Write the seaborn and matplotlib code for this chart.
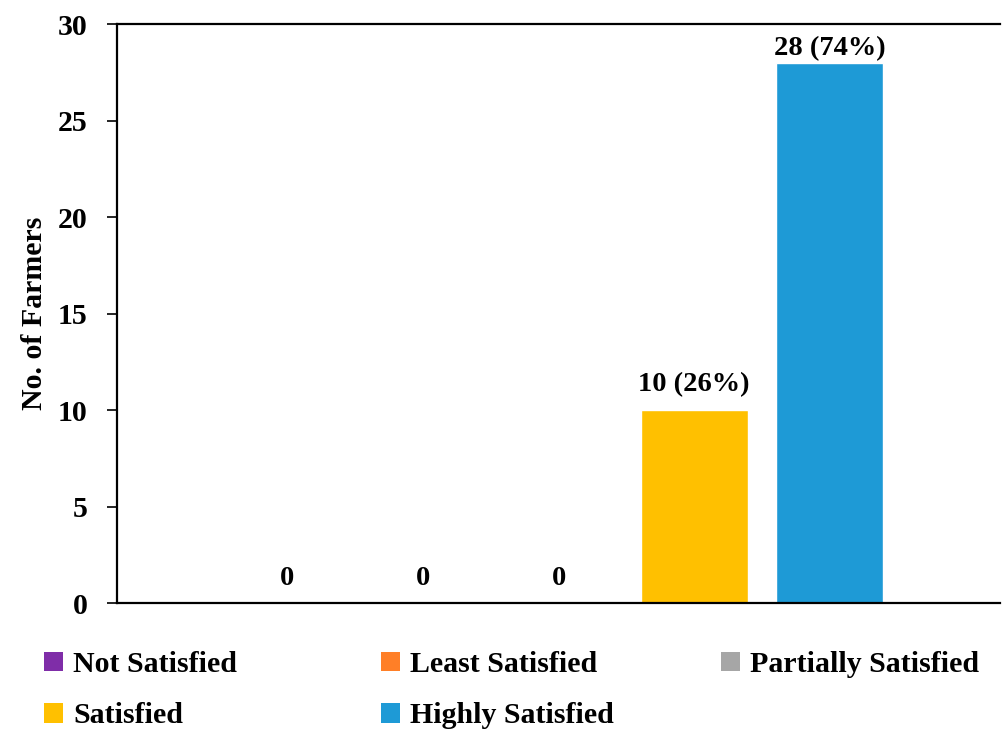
import matplotlib
matplotlib.use("Agg")
import matplotlib.pyplot as plt
from matplotlib.patches import Patch
import seaborn as sns
import pandas as pd

# Farmer satisfaction survey counts
categories = ["Not Satisfied", "Least Satisfied", "Partially Satisfied", "Satisfied", "Highly Satisfied"]
farmers = [0, 0, 0, 10, 28]
percent_labels = ["0", "0", "0", "10 (26%)", "28 (74%)"]
colors = ["#7F2DA8", "#FF7F27", "#A6A6A6", "#FFC000", "#1E9AD6"]
y_ticks = [0, 5, 10, 15, 20, 25, 30]

sns.set_style("white")
plt.rcParams["font.family"] = ["Liberation Serif", "DejaVu Serif"]
plt.rcParams["font.weight"] = "bold"
plt.rcParams["text.color"] = "black"
plt.rcParams["axes.labelcolor"] = "black"
plt.rcParams["ytick.color"] = "black"

FS = 21.5

df = pd.DataFrame({"category": categories, "farmers": farmers})

fig = plt.figure(figsize=(10.02, 7.29), dpi=100)
ax = fig.add_axes([0.1168, 0.1728, 0.8812, 0.7942])

sns.barplot(data=df, x="category", y="farmers", hue="category", order=categories,
            hue_order=categories, palette=colors, width=0.79, legend=False,
            saturation=1, ax=ax)

# value labels above each bar
for i, (v, lab) in enumerate(zip(farmers, percent_labels)):
    pad = 1 if v >= 25 else 9
    ax.annotate(lab, (i, v), xytext=(0, pad), textcoords="offset points",
                ha="center", va="bottom", fontsize=FS - 1, fontweight="bold",
                color="black")

ax.set_xlim(-1.254, 5.254)
ax.set_ylim(0, 30)
ax.set_yticks(y_ticks)
ax.set_yticklabels([str(t) for t in y_ticks], fontsize=FS, fontweight="bold")
ax.set_xticks([])
ax.set_xlabel("")
ax.set_ylabel("No. of Farmers", fontsize=FS, fontweight="bold", labelpad=7)
ax.tick_params(axis="y", direction="out", length=7, width=1.2, pad=14, left=True,
               colors="black")

for side in ["left", "bottom", "top"]:
    ax.spines[side].set_visible(True)
    ax.spines[side].set_color("black")
    ax.spines[side].set_linewidth(1.6)
ax.spines["right"].set_visible(False)

# legend laid out in three columns below the plot
columns = [[0, 3], [1, 4], [2]]
col_x = [0.0439, 0.380, 0.7196]
for cx, idx in zip(col_x, columns):
    handles = [Patch(facecolor=colors[k], edgecolor="none", label=categories[k]) for k in idx]
    fig.legend(handles=handles, loc="upper left", bbox_to_anchor=(cx, 0.107),
               frameon=False, handlelength=0.63, handleheight=0.63,
               handletextpad=0.35, labelspacing=0.82, borderaxespad=0, borderpad=0,
               prop={"weight": "bold", "size": FS})

fig.savefig("out.png", dpi=100)
